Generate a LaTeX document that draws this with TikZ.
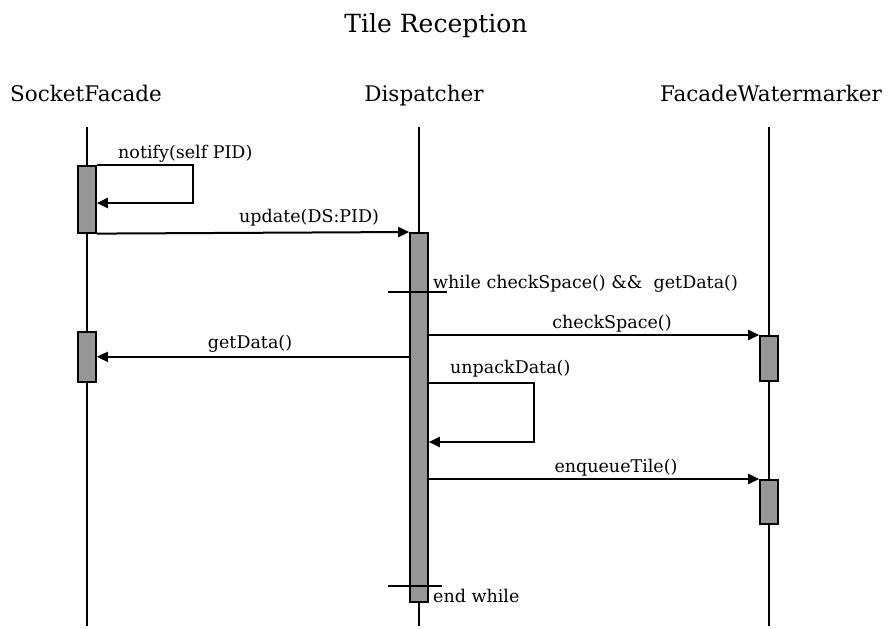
\documentclass[tikz,border=0pt]{standalone}
\usepackage{fontspec}
\setmainfont{DejaVu Serif}
\usetikzlibrary{arrows.meta}
\definecolor{actgray}{RGB}{150,150,150}
\begin{document}
\begin{tikzpicture}[x=1pt,y=-1pt,
  lifeline/.style={line width=1.6pt},
  act/.style={draw, line width=1.6pt, fill=actgray, minimum width=18pt,
              inner sep=0pt, anchor=north},
  msg/.style={line width=2pt, -{Triangle[length=11pt,width=10pt]}},
  bar/.style={line width=1.5pt},
  head/.style={font=\fontsize{21.5}{24}\selectfont, inner sep=0pt, anchor=base},
  lbl/.style={font=\fontsize{17.5}{20}\selectfont, inner sep=0pt},
  title/.style={font=\fontsize{25}{28}\selectfont, inner sep=0pt, anchor=base}]
\useasboundingbox (0,0) rectangle (892,629);

% title and lifeline heads
\node[title] (ttl) at (436,32) {Tile Reception};
\node[head, anchor=base west] (sfH) at (10,101) {SocketFacade};
\node[head] (dH) at (424,101) {Dispatcher};
\node[head] (fwH) at (771,101) {FacadeWatermarker};

% lifelines
\coordinate (sfTop) at (87,127);  \coordinate (sfBot) at (87,626);
\coordinate (dTop)  at (419,127); \coordinate (dBot)  at (419,626);
\coordinate (fwTop) at (769,127); \coordinate (fwBot) at (769,626);
\draw[lifeline] (sfTop) -- (sfBot);
\draw[lifeline] (dTop) -- (dBot);
\draw[lifeline] (fwTop) -- (fwBot);

% activation bars
\node[act, minimum height=67pt]  (sfA1) at (87,165) {};
\node[act, minimum height=50pt]  (sfA2) at (87,331) {};
\node[act, minimum height=369pt] (dA)   at (419,232) {};
\node[act, minimum height=45pt]  (fwA1) at (769,335) {};
\node[act, minimum height=44pt]  (fwA2) at (769,479) {};

% loop guards
\coordinate (wL) at (388,292); \coordinate (wR) at (447,292);
\coordinate (eL) at (388,586); \coordinate (eR) at (442,586);
\draw[bar] (wL) -- (wR);
\draw[bar] (eL) -- (eR);

% messages
\coordinate (nfR) at (193,203);
\draw[msg] (sfA1.north east) -| (nfR) -- (sfA1.east |- nfR);
\draw[msg] (sfA1.south east) -- (dA.north west);
\draw[msg] (dA.east |- fwA1.north) -- (fwA1.north west);
\draw[msg] (dA.west |- sfA2.east) -- (sfA2.east);
\coordinate (upT) at (534,383); \coordinate (upB) at (534,442);
\draw[msg] (dA.east |- upT) -- (upT) -- (upB) -- (dA.east |- upB);
\draw[msg] (dA.east |- fwA2.north) -- (fwA2.north west);

% message labels
\node[lbl, anchor=base west] (lNotify) at (118,158) {notify(self PID)};
\node[lbl, anchor=base west] (lUpdate) at (239,222) {update(DS:PID)};
\node[lbl, anchor=base west] (lWhile)  at (433,288) {while checkSpace() \&\&\ \ getData()};
\node[lbl, anchor=base]      (lCheck)  at (612,328) {checkSpace()};
\node[lbl, anchor=base]      (lGet)    at (250,348) {getData()};
\node[lbl, anchor=base west] (lUnpack) at (450,373) {unpackData()};
\node[lbl, anchor=base]      (lEnq)    at (616,472) {enqueueTile()};
\node[lbl, anchor=base west] (lEnd)    at (433,602) {end while};
\end{tikzpicture}
\end{document}
